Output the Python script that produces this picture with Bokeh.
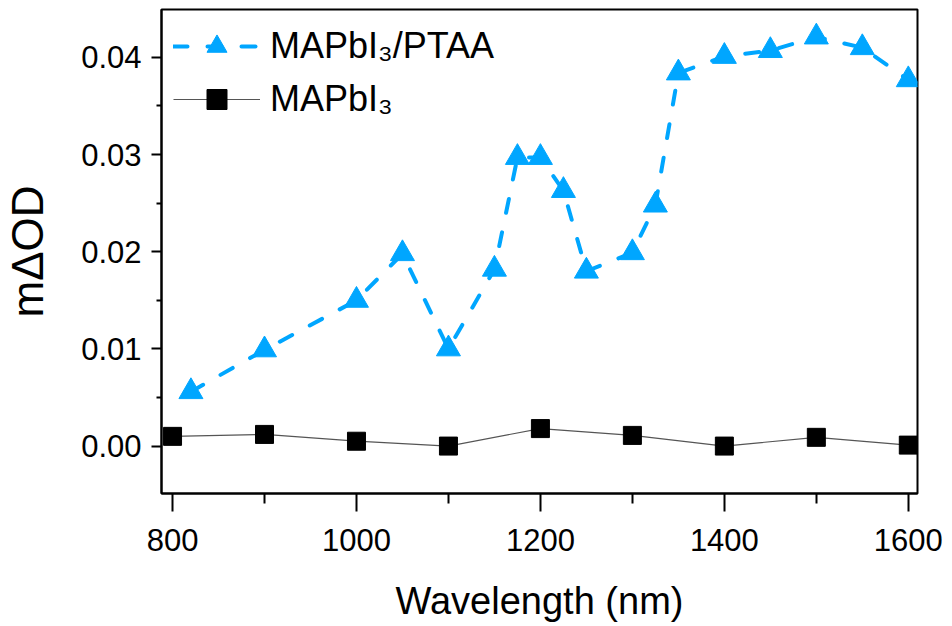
from bokeh.plotting import figure
from bokeh.models import FixedTicker, Range1d, Legend, LegendItem, NumeralTickFormatter
from bokeh.embed import file_html
from bokeh.resources import INLINE

# PTAA series (MAPbI3/PTAA)
ptaa_x = [820, 900, 1000, 1050, 1100, 1150, 1175, 1200, 1225, 1250, 1300, 1325, 1350, 1400, 1450, 1500, 1550, 1600]
ptaa_y = [0.0056, 0.0099, 0.0150, 0.0198, 0.0100, 0.0182, 0.0297, 0.0297, 0.0263, 0.0180, 0.0199, 0.0248, 0.0384, 0.0401, 0.0407, 0.0421, 0.0410, 0.0377]

# Bare MAPbI3 series
mapi_x = [800, 900, 1000, 1100, 1200, 1300, 1400, 1500, 1600]
mapi_y = [0.0010, 0.0012, 0.0005, 0.0000, 0.0018, 0.0011, 0.0000, 0.0009, 0.0001]

x_ticks = [800, 1000, 1200, 1400, 1600]
x_minor = [900, 1100, 1300, 1500]
y_ticks = [0.00, 0.01, 0.02, 0.03, 0.04]
y_minor = [0.005, 0.015, 0.025, 0.035]

BLUE = "#00A6FF"
FONT = "Liberation Sans"

p = figure(width=944, height=624, output_backend="svg", toolbar_location=None,
           x_range=Range1d(788, 1610), y_range=Range1d(-0.00488, 0.04493),
           min_border_left=158, min_border_right=27, min_border_top=9, min_border_bottom=130)

p.grid.visible = False
p.outline_line_color = "black"
p.outline_line_width = 2
p.background_fill_color = "white"
p.border_fill_color = "white"

# lines and markers
l1 = p.line(ptaa_x, ptaa_y, line_color=BLUE, line_width=4, line_dash="14 20", line_cap="round")
m1 = p.scatter(ptaa_x, ptaa_y, marker="triangle", size=24, fill_color=BLUE, line_color=BLUE)
l2 = p.line(mapi_x, mapi_y, line_color="#555555", line_width=1.2)
m2 = p.scatter(mapi_x, mapi_y, marker="square", size=18, fill_color="black", line_color="black")

# axes
xa = p.xaxis[0]
xa.ticker = FixedTicker(ticks=x_ticks, minor_ticks=x_minor)
xa.axis_label = "Wavelength (nm)"
xa.axis_label_text_font = FONT
xa.axis_label_text_font_style = "normal"
xa.axis_label_text_font_size = "38px"
xa.axis_label_text_color = "black"
xa.axis_label_standoff = 26
xa.major_label_text_font = FONT
xa.major_label_text_font_size = "31px"
xa.major_label_text_color = "black"
xa.major_label_standoff = 17
xa.major_tick_out = 18
xa.major_tick_in = 0
xa.minor_tick_out = 10
xa.minor_tick_in = 0
xa.axis_line_width = 2
xa.axis_line_color = "black"
xa.major_tick_line_width = 2
xa.minor_tick_line_width = 2
xa.major_tick_line_color = "black"
xa.minor_tick_line_color = "black"

ya = p.yaxis[0]
ya.ticker = FixedTicker(ticks=y_ticks, minor_ticks=y_minor)
ya.formatter = NumeralTickFormatter(format="0.00")
ya.axis_label = "mΔOD"
ya.axis_label_text_font = FONT
ya.axis_label_text_font_style = "normal"
ya.axis_label_text_font_size = "44px"
ya.axis_label_text_color = "black"
ya.axis_label_standoff = 26
ya.major_label_text_font = FONT
ya.major_label_text_font_size = "31px"
ya.major_label_text_color = "black"
ya.major_label_standoff = 10
ya.major_tick_out = 10
ya.major_tick_in = 0
ya.minor_tick_out = 5
ya.minor_tick_in = 0
ya.axis_line_width = 2
ya.axis_line_color = "black"
ya.major_tick_line_width = 2
ya.minor_tick_line_width = 2
ya.major_tick_line_color = "black"
ya.minor_tick_line_color = "black"

legend = Legend(items=[
    LegendItem(label="MAPbI\u2083/PTAA", renderers=[l1, m1]),
    LegendItem(label="MAPbI\u2083", renderers=[l2, m2]),
], location="top_left")
legend.border_line_color = None
legend.background_fill_alpha = 0
legend.label_text_font = FONT
legend.label_text_font_size = "36px"
legend.label_text_color = "black"
legend.glyph_width = 87
legend.glyph_height = 50
legend.label_height = 50
legend.label_standoff = 10
legend.spacing = 3
legend.padding = 0
legend.margin = 12
p.add_layout(legend)

open("out.html", "w").write(file_html(p, INLINE))
